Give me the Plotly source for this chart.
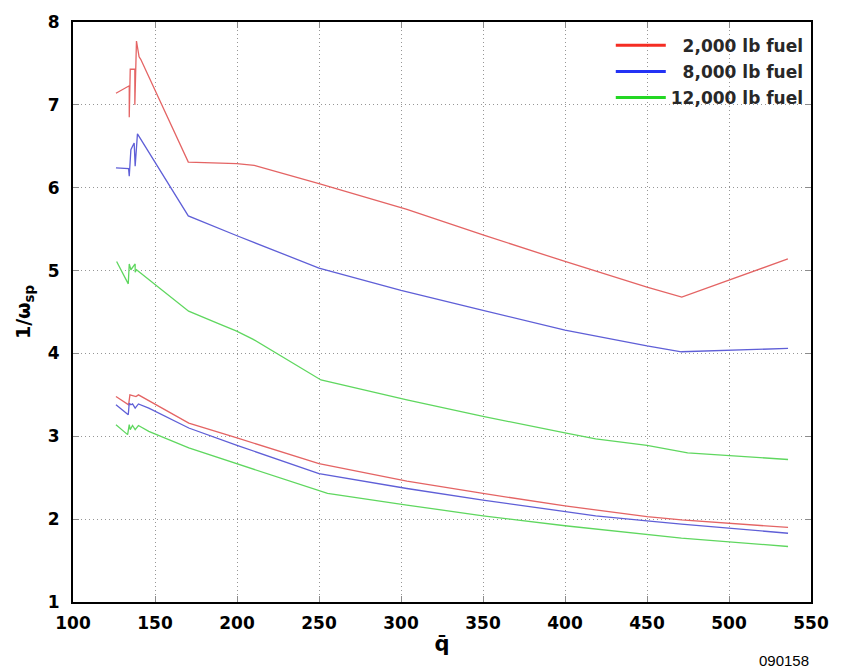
import plotly.graph_objects as go

# Short-period inverse frequency vs dynamic pressure, two branches per fuel state
red_hi_x = [126.2, 134.3, 134.3, 134.9, 137.7, 137.7, 138.7, 140.3, 141.3, 170.3, 199.8, 210.5, 250, 303.6, 350, 400, 450, 471.2, 535.9]
red_hi_y = [7.14, 7.23, 6.85, 7.43, 7.43, 7.00, 7.77, 7.58, 7.55, 6.31, 6.29, 6.27, 6.05, 5.74, 5.43, 5.11, 4.80, 4.68, 5.14]
red_lo_x = [126.2, 133.9, 134.7, 136.3, 138.4, 139.9, 141.7, 146.2, 170.6, 200, 250, 303.6, 350, 400, 418.7, 450, 471, 536]
red_lo_y = [3.48, 3.38, 3.50, 3.49, 3.48, 3.50, 3.48, 3.44, 3.16, 2.98, 2.67, 2.46, 2.31, 2.16, 2.11, 2.03, 1.99, 1.90]

blue_hi_x = [126.2, 133.9, 134.3, 135.3, 136.3, 137.3, 137.9, 139.3, 170.3, 200, 250, 300, 350, 400, 450, 471, 536]
blue_hi_y = [6.24, 6.23, 6.14, 6.46, 6.50, 6.54, 6.26, 6.65, 5.66, 5.42, 5.03, 4.76, 4.52, 4.28, 4.09, 4.02, 4.06]
blue_lo_x = [126.2, 133.7, 134.3, 135.3, 136.3, 137.9, 139.9, 146.2, 170.6, 200, 250, 303.6, 350, 400, 418.7, 450, 471, 536]
blue_lo_y = [3.38, 3.26, 3.40, 3.38, 3.39, 3.34, 3.39, 3.34, 3.10, 2.89, 2.55, 2.37, 2.23, 2.09, 2.04, 1.98, 1.94, 1.83]

green_hi_x = [126.6, 133.7, 134.3, 135.3, 137.9, 137.9, 138.7, 150.4, 170.5, 188.7, 199.8, 209.9, 251.2, 303.6, 350, 400, 418.7, 450, 474.8, 536]
green_hi_y = [5.11, 4.84, 5.08, 5.01, 5.08, 4.98, 5.01, 4.83, 4.51, 4.36, 4.27, 4.17, 3.68, 3.44, 3.24, 3.04, 2.97, 2.89, 2.80, 2.72]
green_lo_x = [126.2, 133.3, 134.3, 134.9, 136.3, 137.9, 139.9, 146.2, 170.6, 200, 255.2, 303.6, 350, 400, 418.7, 450, 471, 536]
green_lo_y = [3.14, 3.02, 3.14, 3.08, 3.13, 3.08, 3.13, 3.06, 2.86, 2.67, 2.31, 2.17, 2.04, 1.92, 1.88, 1.81, 1.77, 1.67]

series_names = ["\u00a0\u00a02,000 lb fuel", "\u00a0\u00a08,000 lb fuel", "12,000 lb fuel"]
legend_colors = ["rgb(245,45,35)", "rgb(35,50,245)", "rgb(35,215,35)"]
line_colors = ["rgb(228,100,100)", "rgb(95,95,215)", "rgb(95,215,95)"]

x_ticks = [100, 150, 200, 250, 300, 350, 400, 450, 500, 550]
y_ticks = [1, 2, 3, 4, 5, 6, 7, 8]

curves = [
    (red_hi_x, red_hi_y, red_lo_x, red_lo_y),
    (blue_hi_x, blue_hi_y, blue_lo_x, blue_lo_y),
    (green_hi_x, green_hi_y, green_lo_x, green_lo_y),
]

FONT = "DejaVu Sans"

fig = go.Figure()
for i, (name, lcol, pcol, (hx, hy, lx, ly)) in enumerate(zip(series_names, legend_colors, line_colors, curves)):
    for xs, ys in ((hx, hy), (lx, ly)):
        fig.add_trace(go.Scatter(
            x=xs, y=ys, mode="lines", showlegend=False, legendgroup=f"g{i}",
            line=dict(color=pcol, width=1.3), hoverinfo="skip",
        ))
    # legend entry with a heavier stroke
    fig.add_trace(go.Scatter(
        x=[None], y=[None], mode="lines", name=name, legendgroup=f"g{i}",
        line=dict(color=lcol, width=3),
    ))

axis_common = dict(
    showline=True, linecolor="black", linewidth=2, mirror="allticks",
    ticks="inside", ticklen=6, tickcolor="rgb(140,140,140)", tickwidth=1,
    showgrid=True, gridcolor="rgb(150,150,150)", gridwidth=1, griddash="1px,3px",
    zeroline=False, tickfont=dict(family=FONT, size=17, color="black", weight="bold"),
)

fig.update_xaxes(
    range=[100, 550], tickvals=x_ticks, ticktext=[str(v) for v in x_ticks],
    ticklabelstandoff=5,
    title=dict(text="<b>q\u0304</b>", font=dict(family=FONT, size=21, color="black"), standoff=4),
    **axis_common,
)
fig.update_yaxes(
    range=[1, 8], tickvals=y_ticks, ticktext=[str(v) for v in y_ticks],
    ticklabelstandoff=8,
    title=dict(text="<b>1/\u03c9<sub>sp</sub></b>", font=dict(family=FONT, size=19, color="black"), standoff=12),
    **axis_common,
)

fig.add_annotation(
    text="090158", xref="paper", yref="paper", x=1.0, y=-0.1008, xanchor="right", yanchor="middle",
    showarrow=False, font=dict(family="Liberation Sans", size=15, color="black"),
)

fig.update_layout(
    width=841, height=672,
    margin=dict(l=73, r=24, t=13, b=70),
    paper_bgcolor="white", plot_bgcolor="white",
    showlegend=True,
    legend=dict(
        x=0.997, y=0.99, xanchor="right", yanchor="top",
        bgcolor="rgba(255,255,255,0)", borderwidth=0,
        font=dict(family=FONT, size=17, color="rgb(40,40,40)", weight="bold"),
        tracegroupgap=1, itemwidth=50,
    ),
)

fig.write_html("out.html")
